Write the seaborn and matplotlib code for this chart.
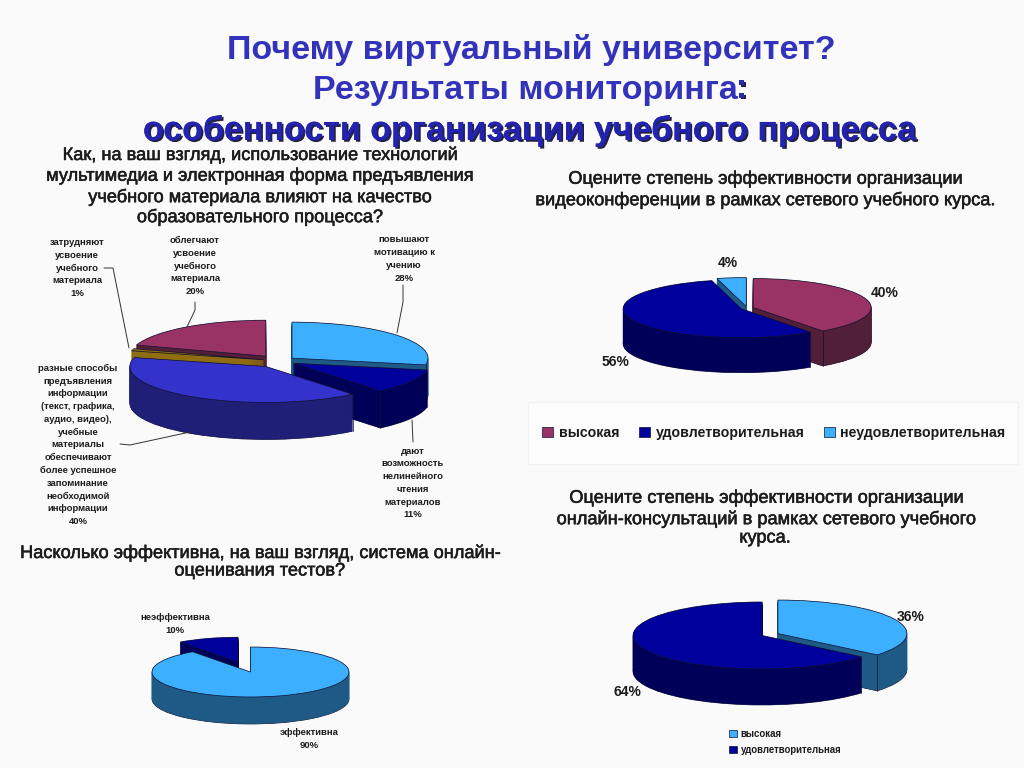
import matplotlib
matplotlib.use("Agg")
import matplotlib.pyplot as plt
import matplotlib.patheffects as pe
from matplotlib.patches import Patch, Rectangle
import numpy as np
import seaborn as sns

BG = "#fafafb"
RED, RED_SIDE = "#993366", "#521f38"
NAVY, NAVY_SIDE = "#00009c", "#000058"
LIGHT, LIGHT_SIDE = "#3cafff", "#1f5a86"
BLUE, BLUE_SIDE = "#3333cc", "#1f1f78"
BROWN, BROWN_SIDE = "#8a6a10", "#8f6e12"

# values are percent, clockwise from 12 o'clock
media_values = [28, 11, 40, 1, 20]
media_explode = [0.124, 0.124, 0.18, 0.12, 0.165]
media_colors = [LIGHT, NAVY, BLUE, BROWN, RED]
media_sides = [LIGHT_SIDE, NAVY_SIDE, BLUE_SIDE, BROWN_SIDE, RED_SIDE]
media_order = [4, 3, 0, 1, 2]

video_values = [40, 56, 4]
video_explode = [0.055, 0.055, 0.05]
video_colors = [RED, NAVY, LIGHT]
video_sides = [RED_SIDE, NAVY_SIDE, LIGHT_SIDE]
video_order = [2, 0, 1]
video_legend = ["высокая", "удовлетворительная", "неудовлетворительная"]

tests_values = [90, 10]
tests_explode = [0.0, 0.41]
tests_colors = [LIGHT, NAVY]
tests_sides = [LIGHT_SIDE, NAVY_SIDE]
tests_order = [1, 0]

online_values = [36, 64]
online_explode = [0.068, 0.068]
online_colors = [LIGHT, NAVY]
online_sides = [LIGHT_SIDE, NAVY_SIDE]
online_order = [0, 1]
online_legend = ["высокая", "удовлетворительная"]

sns.set_theme(style="white", rc={"figure.facecolor": BG, "axes.facecolor": "none"})
plt.rcParams["font.family"] = ["Liberation Sans", "DejaVu Sans"]

W, H = 1024, 768
fig = plt.figure(figsize=(W / 100, H / 100), dpi=100)


def pie_3d(values, colors, sides, order, explode, cx, cy, rx, ry, depth):
    # squashed pie, the depth is a stack of darker copies going down
    pad = 1.6
    extra = depth / ry
    left = (cx - pad * rx) / W
    bottom = 1 - (cy + (pad + extra) * ry) / H
    ax = fig.add_axes([left, bottom, 2 * pad * rx / W, (2 * pad + extra) * ry / H])
    layers = int(depth * 2)
    for i in range(layers + 1):
        offset = extra * (1 - i / layers)
        wedges, _ = ax.pie(values, explode=explode, startangle=90, counterclock=False,
                           center=(0, -offset), radius=1)
        for k, w in enumerate(wedges):
            w.set_zorder(order.index(k) * 1000 + i)
            if i == layers:
                w.set(facecolor=colors[k], edgecolor="#101030", linewidth=0.5)
            elif i == 0:
                w.set(facecolor=sides[k], edgecolor="#101030", linewidth=0.5)
            else:
                w.set(facecolor=sides[k], edgecolor=sides[k], linewidth=0.3)
    # dark vertical edges at the front corners of each slice
    for k, w in enumerate(wedges):
        for angle in np.radians([w.theta1, w.theta2]):
            if np.sin(angle) < 0:
                x = w.center[0] + w.r * np.cos(angle)
                y = w.center[1] + w.r * np.sin(angle)
                ax.plot([x, x], [y, y - extra], color="#101030", linewidth=0.5,
                        zorder=order.index(k) * 1000 + layers - 1)
    ax.set_aspect("auto")
    ax.set_xlim(-pad, pad)
    ax.set_ylim(-pad - extra, pad)
    ax.axis("off")
    return ax


pie_3d(media_values, media_colors, media_sides, media_order, media_explode, 279, 361, 136, 36, 37)
pie_3d(video_values, video_colors, video_sides, video_order, video_explode, 747, 308, 118, 29, 35)
pie_3d(tests_values, tests_colors, tests_sides, tests_order, tests_explode, 250.5, 672, 98.5, 25, 27)
pie_3d(online_values, online_colors, online_sides, online_order, online_explode, 770, 634.5, 129, 33.5, 36)

# overlay in pixel coordinates for all the slide text
page = fig.add_axes([0, 0, 1, 1], zorder=50)
page.set_xlim(0, W)
page.set_ylim(H, 0)
page.axis("off")

shadow = [pe.withSimplePatchShadow(offset=(1.3, -1.3), shadow_rgbFace="#15153a", alpha=0.95), pe.Normal()]
page.text(531, 50, "Почему виртуальный университет?", ha="center", va="center",
          fontsize=24.5, fontweight="bold", color="#3232bb")
page.text(525, 90, "Результаты мониторинга", ha="center", va="center",
          fontsize=24.5, fontweight="bold", color="#3232bb")
page.text(736, 89, ":", ha="left", va="center", fontsize=24.5, fontweight="bold",
          color="#2a2ab0", path_effects=shadow)
page.text(530, 131, "особенности организации учебного процесса", ha="center", va="center",
          fontsize=24.5, fontweight="bold", color="#2323b0", path_effects=shadow)

questions = [
    (259, [155, 176, 197, 217], ["Как, на ваш взгляд, использование технологий",
                                 "мультимедиа и электронная форма предъявления",
                                 "учебного материала влияют на качество",
                                 "образовательного процесса?"]),
    (764, [179, 200], ["Оцените степень эффективности организации",
                       "видеоконференции в рамках сетевого учебного курса."]),
    (259, [553, 571], ["Насколько эффективна, на ваш взгляд, система онлайн-",
                       "оценивания тестов?"]),
    (765, [498, 519, 538], ["Оцените степень эффективности организации",
                            "онлайн-консультаций в рамках сетевого учебного",
                            "курса."]),
]
heavier = [pe.withStroke(linewidth=0.4, foreground="#1c1c1c")]
for x, ys, lines in questions:
    for y, line in zip(ys, lines):
        page.text(x, y, line, ha="center", va="center", fontsize=13.1,
                  color="#1c1c1c", path_effects=heavier)

small_labels = [
    (77, 268, "затрудняют\nусвоение\nучебного\nматериала\n1%"),
    (195, 266, "облегчают\nусвоение\nучебного\nматериала\n20%"),
    (404, 259, "повышают\nмотивацию к\nучению\n28%"),
    (78, 445, "разные способы\nпредъявления\nинформации\n(текст, графика,\nаудио, видео),\nучебные\n"
              "материалы\nобеспечивают\nболее успешное\nзапоминание\nнеобходимой\nинформации\n40%"),
    (413, 483, "дают\nвозможность\nнелинейного\nчтения\nматериалов\n11%"),
    (175, 624, "неэффективна\n10%"),
    (309, 739, "эффективна\n90%"),
]
for x, y, label in small_labels:
    page.text(x, y, label, ha="center", va="center", fontsize=6.8, fontweight="bold",
              color="#1c1c1c", linespacing=1.53)

percent_labels = [(728, 263, "4%"), (885, 293, "40%"), (616, 362, "56%"),
                  (911, 617, "36%"), (627, 692, "64%")]
for x, y, label in percent_labels:
    page.text(x, y, label, ha="center", va="center", fontsize=10, fontweight="bold", color="#1c1c1c")

leaders = [
    ([104, 113, 129], [268, 268, 348]),
    ([195, 195, 187], [302, 310, 327]),
    ([403, 403, 397], [285, 302, 333]),
    ([412, 413], [420, 442]),
    ([120, 130, 190], [444, 445, 432]),
]
for xs, ys in leaders:
    page.plot(xs, ys, color="#333333", linewidth=0.7)

page.add_patch(Rectangle((528, 402), 490, 62, facecolor="#fcfcfd", edgecolor="#f1f1f3", linewidth=0.8, zorder=0))

handles = [Patch(facecolor=c, edgecolor="#101030", linewidth=0.5) for c in video_colors]
page.add_artist(page.legend(handles, video_legend, ncol=3, loc="center", bbox_to_anchor=(774 / W, 1 - 433 / H),
                            bbox_transform=fig.transFigure, frameon=False, handlelength=0.75, handleheight=0.75,
                            handletextpad=0.4, columnspacing=1.4, prop={"size": 10.2, "weight": "bold"},
                            labelcolor="#1c1c1c"))
handles = [Patch(facecolor=c, edgecolor="#101030", linewidth=0.5) for c in online_colors]
page.legend(handles, online_legend, ncol=1, loc="center", bbox_to_anchor=(785 / W, 1 - 742 / H),
            bbox_transform=fig.transFigure, frameon=False, handlelength=0.8, handleheight=0.8,
            handletextpad=0.4, labelspacing=0.6, prop={"size": 6.95, "weight": "bold"},
            labelcolor="#1c1c1c")

fig.savefig("out.png", dpi=100, facecolor=BG)
